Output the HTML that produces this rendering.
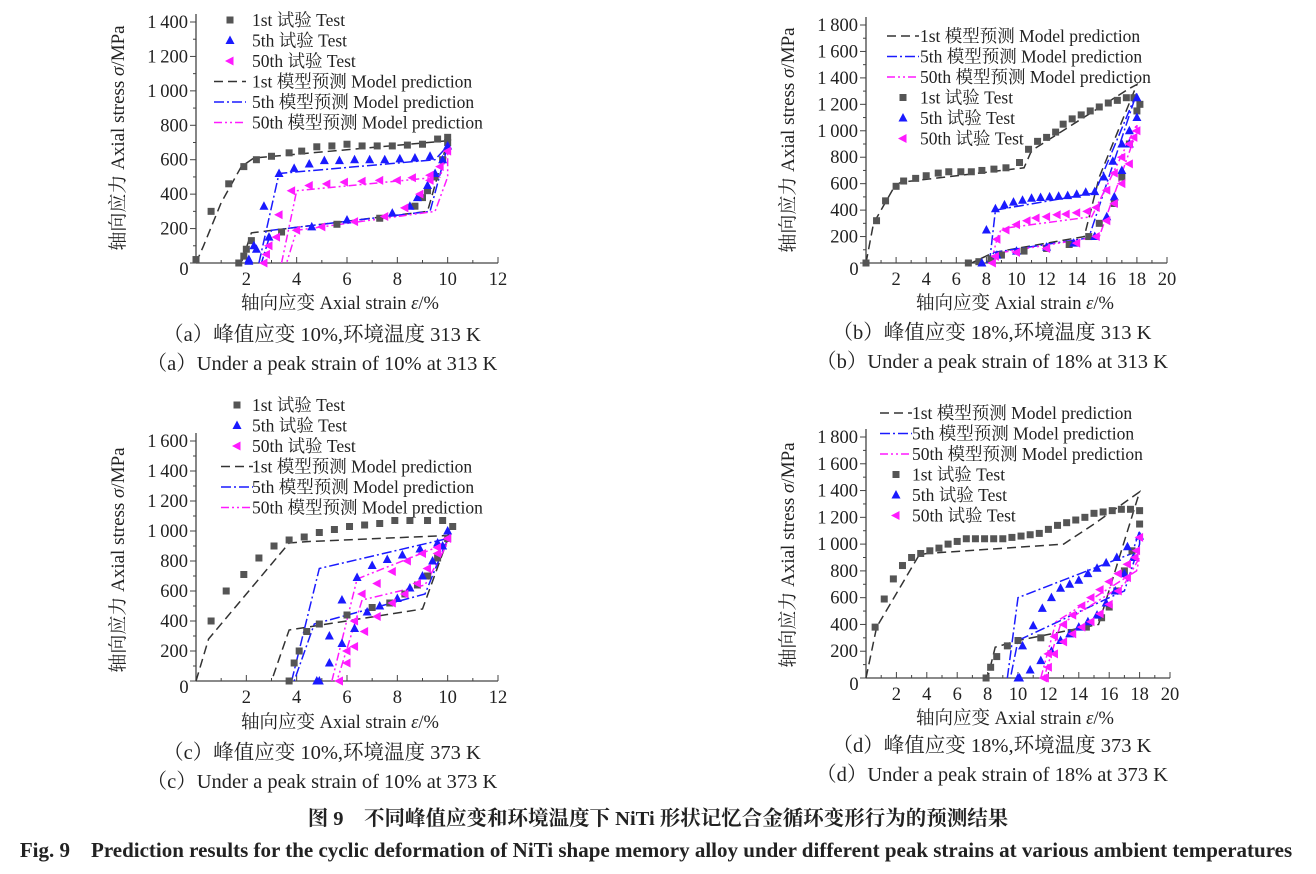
<!DOCTYPE html>
<html><head><meta charset="utf-8">
<style>
body{margin:0;background:#fff;}
svg{display:block;}
text{font-family:"Liberation Serif","Noto Serif CJK SC","Noto Sans CJK SC",serif;fill:#222;}
</style></head>
<body>
<svg id="s" width="1316" height="874" xmlns="http://www.w3.org/2000/svg"></svg>
<script>
const S=document.getElementById('s');let h='';
function T(x,y,t,o={}){h+=`<text x="${x}" y="${y}" font-size="${o.fs||16}" text-anchor="${o.a||'start'}" ${o.w?'font-weight="bold"':''} ${o.r?`transform="rotate(-90 ${x} ${y})"`:''}>${t}</text>`;}
const BK='#333',BL='#1a1aff',MG='#ff1aff';
const DASH={k:'9,5',b:'10,3,2,3',m:'8,3,2,3,2,3'};
function panel(P){
 const {x0,y0,x1,y1,xmax,ymax,xstep,ystep}=P;
 const X=v=>x0+(x1-x0)*v/xmax, Y=v=>y0-(y0-y1)*v/ymax;
 h+=`<line x1="${x0}" y1="${y1-8}" x2="${x0}" y2="${y0}" stroke="#444" stroke-width="1.3"/>`;
 h+=`<line x1="${x0}" y1="${y0}" x2="${X(xmax)}" y2="${y0}" stroke="#444" stroke-width="1.3"/>`;
 for(let v=0;v<=ymax;v+=ystep/2){const y=Y(v);const maj=Math.abs(v/ystep-Math.round(v/ystep))<1e-6;
  h+=`<line x1="${x0-(maj?6:3)}" y1="${y}" x2="${x0}" y2="${y}" stroke="#444"/>`;
  if(maj&&v>0){let s=v>=1000?Math.floor(v/1000)+'\u2009'+String(v%1000).padStart(3,'0'):String(v);T(x0-8,y+6,s,{a:'end',fs:18.5});}}
 for(let v=0;v<=xmax;v+=xstep/2){const x=X(v);const maj=Math.abs(v/xstep-Math.round(v/xstep))<1e-6;
  h+=`<line x1="${x}" y1="${y0}" x2="${x}" y2="${y0-(maj?6:3)}" stroke="#444"/>`;
  if(maj&&v>0)T(x,y0+22,String(v),{a:'middle',fs:18.5});}
 T(x0-12,y0+12,'0',{a:'middle',fs:18.5});
 T(P.ytx,P.tyc,'轴向应力 Axial stress <tspan font-style="italic">σ</tspan>/MPa',{a:'middle',r:1,fs:19});
 T(P.xtc,P.xty,'轴向应变 Axial strain <tspan font-style="italic">ε</tspan>/%',{a:'middle',fs:18.5});
 for(const L of P.lines){h+=`<polyline fill="none" stroke="${L[0]==='k'?BK:L[0]==='b'?BL:MG}" stroke-width="1.5" stroke-dasharray="${DASH[L[0]]}" points="${L[1].map(p=>X(p[0])+','+Y(p[1])).join(' ')}"/>`;}
 for(const M of P.marks){for(const p of M[1]){const x=X(p[0]),y=Y(p[1]);mark(M[0],x,y);}}
 P.leg.forEach((it,i)=>{const y=P.ly+i*20.5;
  if(it[0]==='m') mark(it[1],P.lmx,y); else h+=`<line x1="${P.lmx-16}" y1="${y}" x2="${P.lmx+16}" y2="${y}" stroke="${it[1]==='k'?BK:it[1]==='b'?BL:MG}" stroke-width="1.6" stroke-dasharray="${DASH[it[1]]}"/>`;
  T(P.ltx,y+6,it[2],{fs:17.5});});
}
function mark(t,x,y){
 if(t==='k')h+=`<rect x="${x-3.5}" y="${y-3.5}" width="7" height="7" fill="#555"/>`;
 else if(t==='b')h+=`<polygon points="${x},${y-5} ${x-4.5},${y+3.5} ${x+4.5},${y+3.5}" fill="${BL}"/>`;
 else h+=`<polygon points="${x-5},${y} ${x+3.5},${y-4.5} ${x+3.5},${y+4.5}" fill="${MG}"/>`;
}
const legA=[['m','k','1st 试验 Test'],['m','b','5th 试验 Test'],['m','m','50th 试验 Test'],['l','k','1st 模型预测 Model prediction'],['l','b','5th 模型预测 Model prediction'],['l','m','50th 模型预测 Model prediction']];
const legB=[legA[3],legA[4],legA[5],legA[0],legA[1],legA[2]];
panel({x0:196,y0:263,x1:498,y1:22,xmax:12,ymax:1400,xstep:2,ystep:200,ytx:124,tyc:138,xtc:340,xty:309,lmx:230,ltx:252,ly:20,leg:legA,
lines:[['k',[[0,0],[0.3,100],[1,350],[1.8,560],[2.3,610],[10,710],[9.2,300],[2.2,175],[1.8,0]]],
['b',[[2.5,0],[3.3,520],[9.5,600],[10,680],[9.3,300],[3,190],[2.6,0]]],
['m',[[3.4,0],[4,420],[9.7,500],[10,650],[10,500],[9.5,300],[4,190],[3.6,0]]]],
marks:[['k',[[0,20],[0.6,300],[1.3,460],[1.9,560],[2.4,600],[3,620],[3.7,640],[4.2,650],[4.8,675],[5.4,680],[6,690],[6.6,680],[7.2,680],[7.8,680],[8.4,685],[9,690],[9.6,720],[10,730],[10,700],[9.8,600],[9.5,500],[9.2,420],[9,380],[8.7,330],[7.3,260],[5.6,225],[3.4,180],[2.2,130],[2,80],[1.9,40],[1.7,0]]],
['b',[[2.1,10],[2.3,100],[2.7,330],[3.3,520],[3.9,550],[4.5,575],[5.1,595],[5.7,595],[6.3,600],[6.9,600],[7.5,600],[8.1,605],[8.7,610],[9.3,620],[10,680],[9.8,600],[9.5,520],[9.2,450],[8.8,380],[8.5,330],[7.8,290],[6,250],[4.6,210],[2.9,150],[2.4,80],[2.1,20]]],
['m',[[2.7,0],[2.9,100],[3.3,280],[3.8,420],[4.5,450],[5.2,460],[5.9,470],[6.6,475],[7.3,480],[8,480],[8.6,495],[9.3,510],[10,650],[9.7,560],[9.3,480],[8.9,400],[8.3,320],[7.5,270],[6.3,240],[5,210],[4,190],[3.2,150],[2.8,50]]]]});
panel({x0:866,y0:263,x1:1167,y1:25,xmax:20,ymax:1800,xstep:2,ystep:200,ytx:794,tyc:140,xtc:1015,xty:309,lmx:903,ltx:920,ly:36,leg:legB,
lines:[['k',[[0,0],[0.5,300],[1.9,580],[2.3,610],[10.5,720],[11,850],[17.5,1320],[18,1350],[15.5,650],[14.5,200],[8.5,80],[7,0]]],
['b',[[8.2,0],[8.6,400],[15.2,530],[18,1290],[15.7,500],[14.8,190],[8.5,80],[8,0]]],
['m',[[8.3,0],[8.7,180],[9,260],[15,350],[18,1050],[18,1000],[15.5,200],[8.5,70],[8.3,0]]]],
marks:[['k',[[0,0],[0.7,320],[1.3,470],[2,580],[2.5,620],[3.3,640],[4,660],[4.8,680],[5.5,690],[6.3,690],[7,690],[7.7,700],[8.5,710],[9.3,720],[10.2,760],[10.8,860],[11.4,920],[12,950],[12.6,990],[13.1,1050],[13.7,1090],[14.3,1120],[14.9,1150],[15.5,1180],[16.1,1210],[16.7,1230],[17.3,1250],[17.8,1250],[18.2,1200],[18,1150],[17.5,900],[17,650],[16.5,450],[15.5,300],[14.8,200],[13.5,140],[12,110],[10.5,90],[9,60],[8.3,30],[7.5,10],[6.8,0]]],
['b',[[7.7,0],[8,250],[8.6,410],[9.2,440],[9.8,460],[10.4,475],[11,490],[11.6,495],[12.2,500],[12.8,505],[13.4,510],[14,520],[14.6,535],[15.2,540],[15.8,650],[16.4,770],[17,900],[17.5,1000],[18,1250],[18,1100],[17.5,900],[17,700],[16.5,500],[16,350],[15.2,200],[13.8,150],[12,120],[10,90],[8.7,60]]],
['m',[[8.4,0],[8.7,180],[9.3,250],[10,290],[10.7,320],[11.3,340],[12,350],[12.7,365],[13.3,370],[14,380],[14.7,390],[15.3,420],[16,550],[16.5,680],[17,800],[17.5,900],[18,1000],[17.8,950],[17.5,750],[17,600],[16.5,450],[16,320],[15.3,200],[14,150],[12,110],[10,80],[8.6,50]]]]});
panel({x0:196,y0:681,x1:498,y1:441,xmax:12,ymax:1600,xstep:2,ystep:200,ytx:124,tyc:560,xtc:340,xty:728,lmx:237,ltx:252,ly:405,leg:legA,
lines:[['k',[[0,0],[0.5,280],[3.7,920],[4.5,930],[10,970],[10.1,990],[9,480],[3.7,340],[3,0]]],
['b',[[3.8,0],[4.9,750],[10,950],[9.1,580],[4.7,380],[3.9,0]]],
['m',[[5.4,0],[6.4,680],[10,920],[9.1,640],[6.6,540],[5.6,0]]]],
marks:[['k',[[0.6,400],[1.2,600],[1.9,710],[2.5,820],[3.1,900],[3.7,940],[4.3,960],[4.9,990],[5.5,1010],[6.1,1030],[6.7,1040],[7.3,1050],[7.9,1070],[8.5,1070],[9.2,1070],[9.8,1070],[10.2,1030],[10,950],[9.6,820],[9.2,700],[8.8,640],[8.3,580],[7.7,520],[7,490],[6,440],[4.9,380],[4.4,330],[4.1,200],[3.9,120],[3.7,0]]],
['b',[[4.8,0],[5.3,300],[5.8,540],[6.4,690],[7,770],[7.6,810],[8.2,840],[8.9,880],[9.6,920],[10,1000],[9.8,900],[9.4,800],[9,700],[8.5,620],[8,550],[7.3,500],[6.8,460],[6.3,350],[5.8,250],[5.3,120],[4.9,0]]],
['m',[[5.7,0],[6,200],[6.3,400],[6.6,580],[7.2,650],[7.8,730],[8.4,800],[9,850],[9.6,890],[10,950],[9.6,850],[9.2,750],[8.8,650],[8.3,580],[7.8,520],[7.2,430],[6.7,330],[6.3,230],[6,120],[5.7,0]]]]});
panel({x0:866,y0:678,x1:1170,y1:437,xmax:20,ymax:1800,xstep:2,ystep:200,ytx:794,tyc:555,xtc:1015,xty:724,lmx:896,ltx:912,ly:413,leg:legB,
lines:[['k',[[0,0],[0.7,380],[3.5,920],[4,930],[13,1000],[15,1150],[18,1390],[15.3,400],[10,280],[8.5,230],[8,0]]],
['b',[[9.3,0],[10,600],[17.5,930],[18,1100],[18,1000],[17,650],[16,600],[10,280],[9.5,0]]],
['m',[[11.5,0],[12.5,420],[17.8,800],[18,900],[17,700],[12.8,400],[11.7,0]]]],
marks:[['k',[[0.6,380],[1.2,590],[1.8,740],[2.4,840],[3,900],[3.6,930],[4.2,950],[4.8,970],[5.4,1000],[6,1020],[6.6,1040],[7.2,1040],[7.8,1040],[8.4,1040],[9,1040],[9.6,1050],[10.2,1060],[10.8,1070],[11.4,1080],[12,1110],[12.6,1140],[13.2,1160],[13.8,1180],[14.4,1200],[15,1230],[15.6,1240],[16.2,1250],[16.8,1260],[17.4,1260],[18,1250],[18,1150],[17.5,950],[17,800],[16.5,650],[16,530],[15.5,450],[14.5,380],[13.5,340],[11.5,300],[10,280],[9.3,240],[8.6,160],[8.2,80],[7.9,0]]],
['b',[[10,0],[10.3,240],[11,390],[11.6,520],[12.2,600],[12.8,670],[13.4,700],[14,730],[14.6,780],[15.2,820],[15.8,860],[16.5,900],[17.2,980],[18,1060],[17.6,900],[17,780],[16.4,650],[15.8,560],[15.2,470],[14.6,420],[14,380],[13.4,330],[12.8,280],[12.2,200],[11.5,130],[10.8,60],[10.1,0]]],
['m',[[11.8,0],[12,180],[12.4,310],[13,400],[13.6,470],[14.2,540],[14.8,600],[15.4,660],[16,720],[16.6,780],[17.2,850],[17.8,950],[18,1050],[17.7,900],[17.2,750],[16.6,650],[16,550],[15.4,480],[14.8,420],[14.2,380],[13.6,330],[13,270],[12.4,180],[12,80],[11.7,0]]]]});
const CF=20.5;
T(322,341,'（a）峰值应变 10%,环境温度 313 K',{a:'middle',fs:CF});
T(322,370,'（a）Under a peak strain of 10% at 313 K',{a:'middle',fs:CF});
T(992,339,'（b）峰值应变 18%,环境温度 313 K',{a:'middle',fs:CF});
T(992,368,'（b）Under a peak strain of 18% at 313 K',{a:'middle',fs:CF});
T(322,759,'（c）峰值应变 10%,环境温度 373 K',{a:'middle',fs:CF});
T(322,788,'（c）Under a peak strain of 10% at 373 K',{a:'middle',fs:CF});
T(992,752,'（d）峰值应变 18%,环境温度 373 K',{a:'middle',fs:CF});
T(992,781,'（d）Under a peak strain of 18% at 373 K',{a:'middle',fs:CF});
T(658,825,'图 9　不同峰值应变和环境温度下 NiTi 形状记忆合金循环变形行为的预测结果',{a:'middle',fs:20.5,w:1});
T(656,857,'Fig. 9　Prediction results for the cyclic deformation of NiTi shape memory alloy under different peak strains at various ambient temperatures',{a:'middle',fs:21,w:1});
S.innerHTML=h;
</script>
</body></html>
